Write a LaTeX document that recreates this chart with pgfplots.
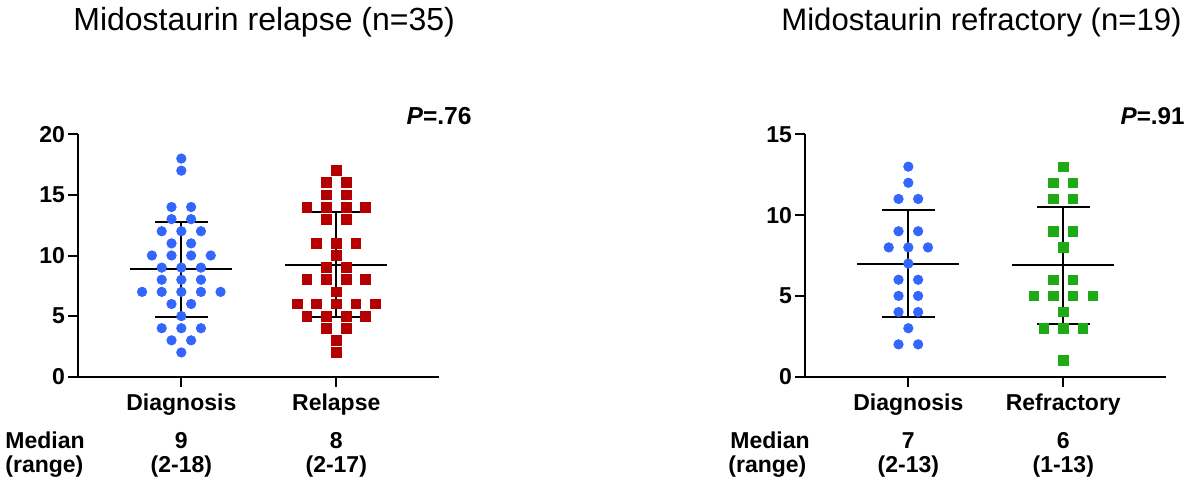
\documentclass[border=0pt]{standalone}
\usepackage{pgfplots}
\pgfplotsset{compat=1.18}
\usepackage{fontspec}
\setmainfont{Liberation Sans}
\definecolor{dotblue}{RGB}{51,102,255}
\definecolor{sqred}{RGB}{180,0,0}
\definecolor{sqgreen}{RGB}{30,170,20}
\newcommand{\bfs}{\bfseries\fontsize{11.5}{13}\selectfont}
\pgfplotsset{
  dotstyle/.style={
    scale only axis, width=180.5pt, height=121.2pt,
    xmin=0.335, xmax=2.665, ymin=0,
    axis x line*=bottom, axis y line*=left,
    axis line style={-, line width=1pt, black},
    tick align=outside, major tick length=5pt,
    tick style={line width=1pt, black},
    xtick={1,2},
    /pgf/number format/assume math mode=true,
    ticklabel style={font=\bfs},
    yticklabel style={inner sep=1.5pt},
    xticklabel style={anchor=base, inner sep=0pt, yshift=-12pt},
    clip=false,
  },
  meanline/.style={black, line width=1pt, no marks},
}
\begin{document}
\begin{tikzpicture}
\useasboundingbox (0,0) rectangle (594pt,241pt);
% ---------------- left panel ----------------
\begin{axis}[dotstyle, at={(39.15pt,52.65pt)}, anchor=south west,
  ymax=20, ytick={0,5,10,15,20}, xticklabels={Diagnosis,Relapse}]
\addplot[meanline] coordinates {(0.671,8.857) (1.329,8.857)};
\addplot[meanline] coordinates {(1,4.953) (1,12.761)};
\addplot[meanline] coordinates {(0.829,12.761) (1.171,12.761)};
\addplot[meanline] coordinates {(0.829,4.953) (1.171,4.953)};
\addplot[meanline] coordinates {(1.671,9.257) (2.329,9.257)};
\addplot[meanline] coordinates {(2,4.957) (2,13.557)};
\addplot[meanline] coordinates {(1.829,13.557) (2.171,13.557)};
\addplot[meanline] coordinates {(1.829,4.957) (2.171,4.957)};
\addplot[only marks, mark=*, mark size=2.35pt, mark options={draw=dotblue, fill=dotblue}] coordinates {
(1,18)(1,17)
(0.9367,14)(1.0633,14)
(0.9367,13)(1.0633,13)
(0.8733,12)(1,12)(1.1267,12)
(0.9367,11)(1.0633,11)
(0.81,10)(0.9367,10)(1.0633,10)(1.19,10)
(0.8733,9)(1,9)(1.1267,9)
(0.8733,8)(1,8)(1.1267,8)
(0.7467,7)(0.8733,7)(1,7)(1.1267,7)(1.2533,7)
(0.9367,6)(1.0633,6)
(1,5)
(0.8733,4)(1,4)(1.1267,4)
(0.9367,3)(1.0633,3)
(1,2)};
\addplot[only marks, mark=square*, mark size=2.45pt, mark options={draw=sqred, fill=sqred}] coordinates {
(2,17)
(1.9367,16)(2.0633,16)
(1.9367,15)(2.0633,15)
(1.81,14)(1.9367,14)(2.0633,14)(2.19,14)
(1.9367,13)(2.0633,13)
(1.8733,11)(2,11)(2.1267,11)
(2,10)
(1.9367,9)(2.0633,9)
(1.81,8)(1.9367,8)(2.0633,8)(2.19,8)
(2,7)
(1.7467,6)(1.8733,6)(2,6)(2.1267,6)(2.2533,6)
(1.81,5)(1.9367,5)(2.0633,5)(2.19,5)
(1.9367,4)(2.0633,4)
(2,3)
(2,2)};
\node[anchor=base, font=\bfs] at (axis cs:1,0) [yshift=-35.8pt] {9};
\node[anchor=base, font=\bfs] at (axis cs:1,0) [yshift=-48pt] {(2-18)};
\node[anchor=base, font=\bfs] at (axis cs:2,0) [yshift=-35.8pt] {8};
\node[anchor=base, font=\bfs] at (axis cs:2,0) [yshift=-48pt] {(2-17)};
\end{axis}
% ---------------- right panel ----------------
\begin{axis}[dotstyle, at={(402.65pt,52.65pt)}, anchor=south west,
  ymax=15, ytick={0,5,10,15}, xticklabels={Diagnosis,Refractory}]
\addplot[meanline] coordinates {(0.671,7) (1.329,7)};
\addplot[meanline] coordinates {(1,3.683) (1,10.317)};
\addplot[meanline] coordinates {(0.829,10.317) (1.171,10.317)};
\addplot[meanline] coordinates {(0.829,3.683) (1.171,3.683)};
\addplot[meanline] coordinates {(1.671,6.895) (2.329,6.895)};
\addplot[meanline] coordinates {(2,3.261) (2,10.529)};
\addplot[meanline] coordinates {(1.829,10.529) (2.171,10.529)};
\addplot[meanline] coordinates {(1.829,3.261) (2.171,3.261)};
\addplot[only marks, mark=*, mark size=2.35pt, mark options={draw=dotblue, fill=dotblue}] coordinates {
(1,13)(1,12)
(0.9367,11)(1.0633,11)
(0.9367,9)(1.0633,9)
(0.8733,8)(1,8)(1.1267,8)
(1,7)
(0.9367,6)(1.0633,6)
(0.9367,5)(1.0633,5)
(0.9367,4)(1.0633,4)
(1,3)
(0.9367,2)(1.0633,2)};
\addplot[only marks, mark=square*, mark size=2.35pt, mark options={draw=sqgreen, fill=sqgreen}] coordinates {
(2,13)
(1.9367,12)(2.0633,12)
(1.9367,11)(2.0633,11)
(1.9367,9)(2.0633,9)
(2,8)
(1.9367,6)(2.0633,6)
(1.81,5)(1.9367,5)(2.0633,5)(2.19,5)
(2,4)
(1.8733,3)(2,3)(2.1267,3)
(2,1)};
\node[anchor=base, font=\bfs] at (axis cs:1,0) [yshift=-35.8pt] {7};
\node[anchor=base, font=\bfs] at (axis cs:1,0) [yshift=-48pt] {(2-13)};
\node[anchor=base, font=\bfs] at (axis cs:2,0) [yshift=-35.8pt] {6};
\node[anchor=base, font=\bfs] at (axis cs:2,0) [yshift=-48pt] {(1-13)};
\end{axis}
% ---------------- texts ----------------
\node[anchor=base west, inner sep=0pt, font=\fontsize{16}{19}\selectfont] at (36.5pt,225.5pt) {Midostaurin relapse (n=35)};
\node[anchor=base west, inner sep=0pt, font=\fontsize{15.55}{19}\selectfont] at (390.5pt,225.5pt) {Midostaurin refractory (n=19)};
\node[anchor=base east, inner sep=0pt, font=\bfseries\fontsize{12.3}{14}\selectfont] at (236pt,178.5pt) {\textit{P}=.76};
\node[anchor=base east, inner sep=0pt, font=\bfseries\fontsize{12.1}{14}\selectfont] at (592.5pt,178.5pt) {\textit{P}=.91};
\node[anchor=base west, inner sep=0pt, font=\bfs] at (2.5pt,16.85pt) {Median};
\node[anchor=base west, inner sep=0pt, font=\bfs] at (2.5pt,4.65pt) {(range)};
\node[anchor=base west, inner sep=0pt, font=\bfs] at (365pt,16.85pt) {Median};
\node[anchor=base west, inner sep=0pt, font=\bfs] at (364pt,4.65pt) {(range)};
\end{tikzpicture}
\end{document}
